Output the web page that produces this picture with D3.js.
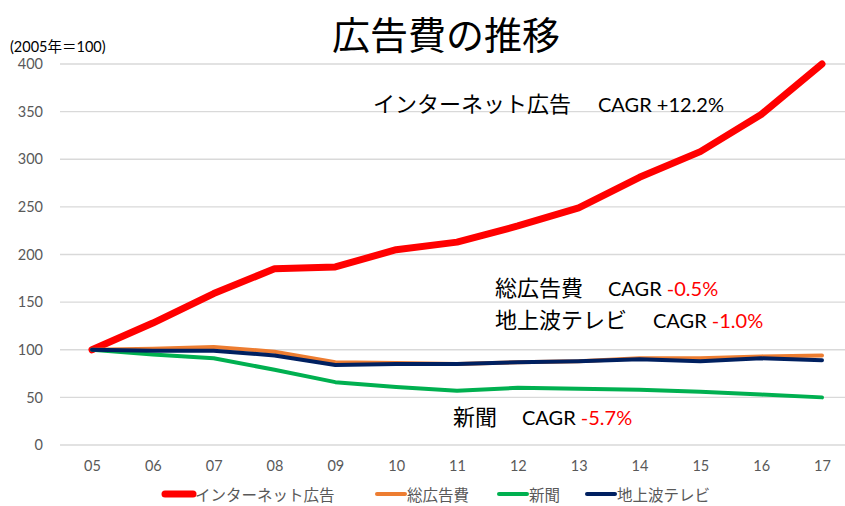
<!DOCTYPE html>
<html>
<head>
<meta charset="utf-8">
<script src="https://cdn.jsdelivr.net/npm/d3@7"></script>
<style>
  body { margin: 0; background: #fff; }
  #grafico { width: 845px; height: 506px; }
  text { font-family: Lato, "Noto Sans CJK JP", sans-serif; }
</style>
</head>
<body>
<div id="grafico"></div>
<script>
// data (2005 = 100)
var years = ["05","06","07","08","09","10","11","12","13","14","15","16","17"];
var internet = [100,128,159,185,187,205,213,230,249,281,308,347,400];
var sougou   = [100,101,103,98,87,86,85,87,88,91,91,93,94];
var shinbun  = [100,95,91,79,66,61,57,60,59,58,56,53,50];
var terebi   = [100,99,99,94,84,85,85,87,88,90,88,91,89];
var yTicks = [0,50,100,150,200,250,300,350,400];

var seriesNames = ["インターネット広告","総広告費","新聞","地上波テレビ"];
var seriesColors = ["#ff0000","#ed7d31","#00b050","#002060"];
var seriesWidth = [7,4,4,4];
var seriesData = [internet, sougou, shinbun, terebi];

var notes = [
  {name: "インターネット広告", cagr: "+12.2%", red: false},
  {name: "総広告費", cagr: "-0.5%", red: true},
  {name: "地上波テレビ", cagr: "-1.0%", red: true},
  {name: "新聞", cagr: "-5.7%", red: true}
];

var W = 845, H = 506;
var svg = d3.select("#grafico").append("svg")
  .attr("width", W).attr("height", H);

// ranges
var x = d3.scalePoint().domain(years).range([92, 822]);
var y = d3.scaleLinear().domain([0, 400]).range([445, 64]);

// gridlines
svg.append("g")
  .attr("class", "grid")
  .selectAll("line").data(yTicks).enter().append("line")
  .attr("x1", 60).attr("x2", W)
  .attr("y1", function(d) { return y(d); })
  .attr("y2", function(d) { return y(d); })
  .style("stroke", "#d9d9d9").style("stroke-width", 1.3);

// y axis labels
var yAxis = svg.append("g")
  .attr("transform", "translate(49,0)")
  .call(d3.axisLeft(y).tickValues(yTicks).tickSize(0).tickPadding(6));
yAxis.select(".domain").remove();
yAxis.selectAll("text")
  .style("font-size", "14.5px").style("fill", "#595959")
  .style("font-family", "Lato, 'Noto Sans CJK JP', sans-serif");

// x axis labels
var xAxis = svg.append("g")
  .attr("transform", "translate(0,445)")
  .call(d3.axisBottom(x).tickSize(0).tickPadding(16));
xAxis.select(".domain").remove();
xAxis.selectAll("text")
  .style("font-size", "14.5px").style("fill", "#595959")
  .style("font-family", "Lato, 'Noto Sans CJK JP', sans-serif");

// lines
var valueline = d3.line()
  .x(function(d, i) { return x(years[i]); })
  .y(function(d) { return y(d); });

seriesData.forEach(function(vals, k) {
  svg.append("path")
    .datum(vals)
    .attr("d", valueline)
    .style("fill", "none")
    .style("stroke", seriesColors[k])
    .style("stroke-width", seriesWidth[k])
    .style("stroke-linejoin", "round")
    .style("stroke-linecap", "round");
});

// title
svg.append("text")
  .attr("x", 446).attr("y", 49)
  .attr("text-anchor", "middle")
  .style("font-size", "38px")
  .style("font-family", "'Noto Sans CJK JP', sans-serif")
  .style("fill", "#000")
  .text("広告費の推移");

// unit label
svg.append("text")
  .attr("x", 10).attr("y", 52)
  .style("font-size", "14.5px")
  .style("fill", "#000")
  .text("(2005年＝100)");

// CAGR notes
var notePos = [
  {x: 373, cx: 598, y: 112},
  {x: 495, cx: 608, y: 296},
  {x: 495, cx: 653, y: 328},
  {x: 453, cx: 522, y: 425}
];
notes.forEach(function(n, i) {
  var t = svg.append("text")
    .attr("y", notePos[i].y)
    .style("font-size", "20px")
    .style("fill", "#000");
  t.append("tspan").attr("x", notePos[i].x)
    .style("font-family", "'Noto Sans CJK JP', sans-serif")
    .style("font-size", "22px")
    .text(n.name);
  t.append("tspan").attr("x", notePos[i].cx).text("CAGR ");
  t.append("tspan").style("fill", n.red ? "#ff0000" : "#000").text(n.cagr);
});

// legend
var legX = [163, 375, 497, 585];
var leg = svg.append("g").attr("class", "legend");
seriesNames.forEach(function(name, k) {
  var g = leg.append("g").attr("transform", "translate(" + legX[k] + ",494)");
  g.append("line")
    .attr("x1", 2).attr("x2", 30)
    .style("stroke", seriesColors[k])
    .style("stroke-width", seriesWidth[k])
    .style("stroke-linecap", "round");
  g.append("text")
    .attr("x", 32).attr("y", 0)
    .attr("dominant-baseline", "central")
    .style("font-size", "15.5px")
    .style("fill", "#595959")
    .style("font-family", "'Noto Sans CJK JP', sans-serif")
    .text(name);
});
</script>
</body>
</html>
